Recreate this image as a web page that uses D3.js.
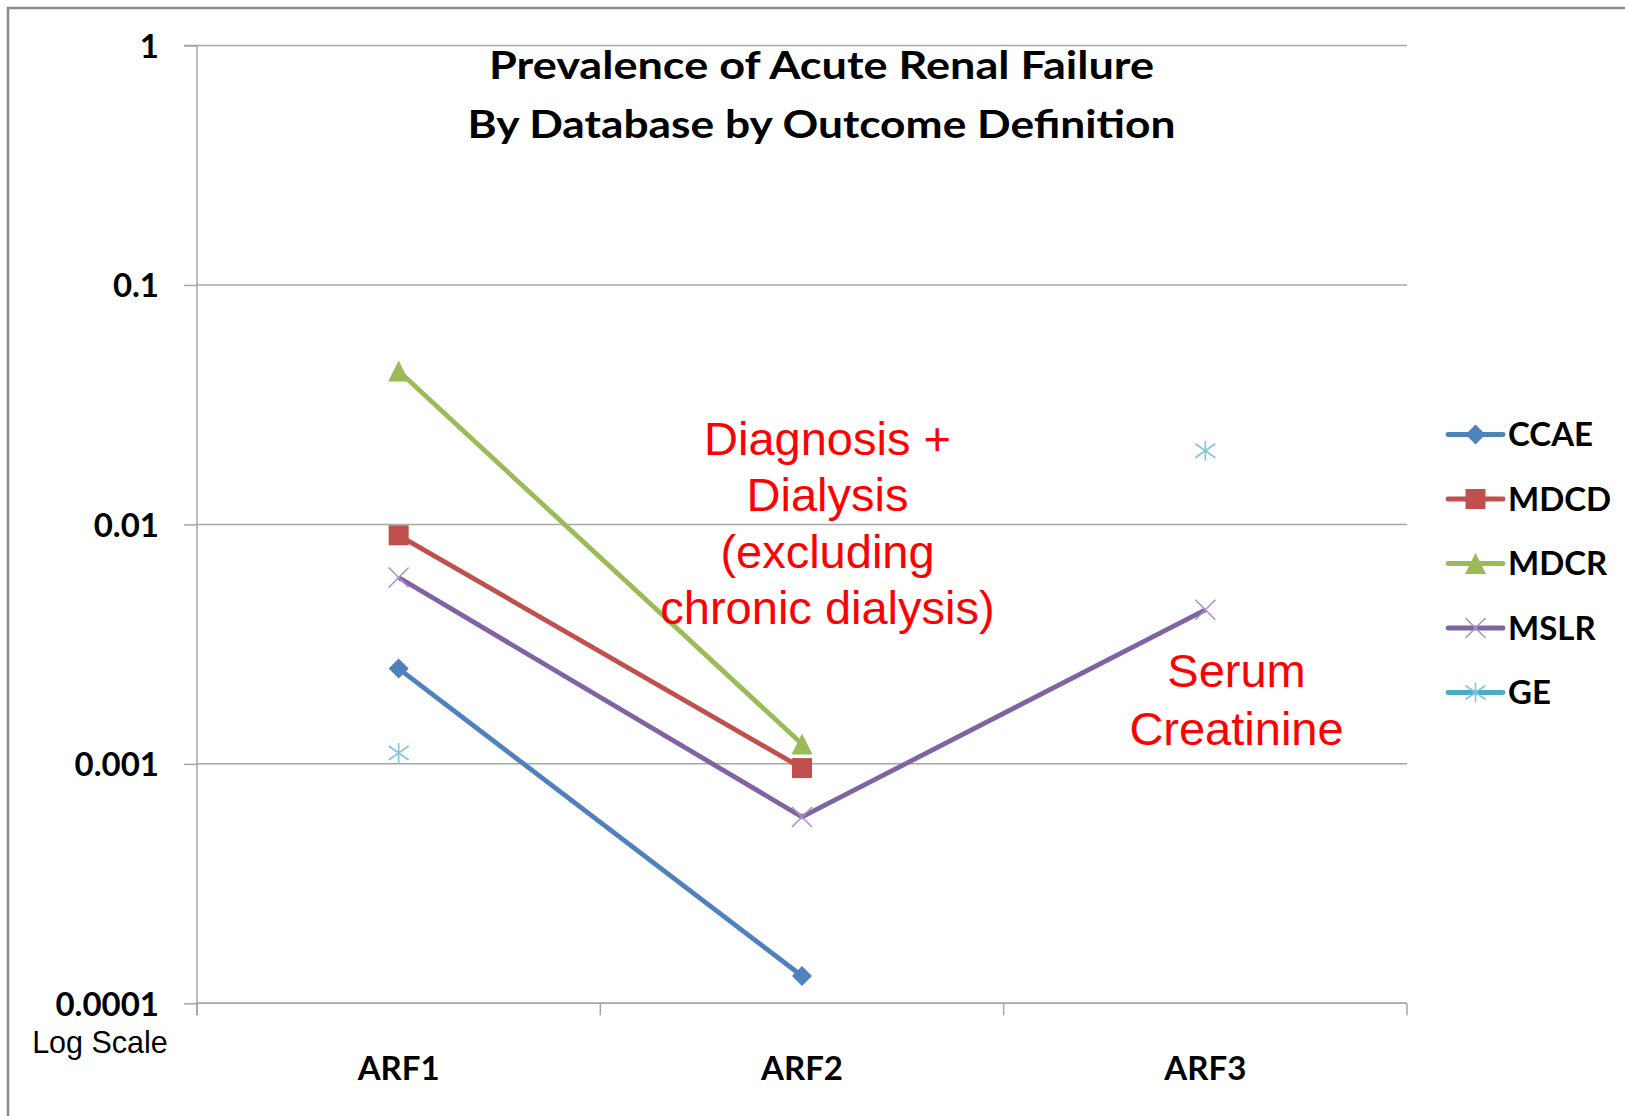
<!DOCTYPE html>
<html>
<head>
<meta charset="utf-8">
<script src="https://cdn.jsdelivr.net/npm/d3@7"></script>
<style>
  html, body { margin: 0; padding: 0; background: #fff; }
  svg { display: block; }
</style>
</head>
<body>
<svg id="chart" width="1625" height="1116"></svg>
<script>
// ---------- data ----------
const categories = ["ARF1", "ARF2", "ARF3"];
const seriesNames = ["CCAE", "MDCD", "MDCR", "MSLR", "GE"];
const ccaeValues = [0.0025, 0.00013, null];
const mdcdValues = [0.009, 0.00096, null];
const mdcrValues = [0.0437, 0.00121, null];
const mslrValues = [0.006, 0.0006, 0.0044];
const geValues   = [0.00111, null, 0.0203];
const yTickValues = [1, 0.1, 0.01, 0.001, 0.0001];
const yTickLabels = ["1", "0.1", "0.01", "0.001", "0.0001"];
const titleLines = ["Prevalence of Acute Renal Failure", "By Database by Outcome Definition"];
const annotationDialysis = ["Diagnosis +", "Dialysis", "(excluding", "chronic dialysis)"];
const annotationSerum = ["Serum", "Creatinine"];
const yAxisNote = "Log Scale";

const seriesValues = [ccaeValues, mdcdValues, mdcrValues, mslrValues, geValues];
const seriesColors = ["#4F81BD", "#C0504D", "#9BBB59", "#8064A2", "#4BACC6"];
const seriesMarkers = ["diamond", "square", "triangle", "x", "asterisk"];
const seriesHasLine = [true, true, true, true, false];

// ---------- layout ----------
const svg = d3.select("#chart");
const plotLeft = 197, plotRight = 1407, plotTop = 45.5, plotBottom = 1003.3;
const calibriLike = "Lato, 'Open Sans', sans-serif";
const arialLike = "'Liberation Sans', Arial, sans-serif";

const x = d3.scaleBand().domain(categories).range([plotLeft, plotRight]);
const xc = c => x(c) + x.bandwidth() / 2;
const y = d3.scaleLog().domain([0.0001, 1]).range([plotBottom, plotTop]);

// outer border (left + top)
svg.append("path")
  .attr("d", `M8,1116 L8,8 L1625,8`)
  .attr("fill", "none").attr("stroke", "#8a8a8a").attr("stroke-width", 2.5);

// gridlines
svg.append("g").selectAll("line").data(yTickValues).join("line")
  .attr("x1", plotLeft).attr("x2", plotRight)
  .attr("y1", d => y(d)).attr("y2", d => y(d))
  .attr("stroke", "#a6a6a6").attr("stroke-width", 1.5);

// y axis
const yAxis = svg.append("g").attr("transform", `translate(${plotLeft},0)`)
  .call(d3.axisLeft(y).tickValues(yTickValues)
    .tickFormat((d, i) => yTickLabels[i]).tickSize(13).tickPadding(25));
yAxis.select(".domain").attr("stroke", "#a6a6a6").attr("stroke-width", 1.5)
  .attr("d", `M-13,${plotTop}H0V${plotBottom + 12}`);
yAxis.selectAll(".tick line").attr("stroke", "#a6a6a6").attr("stroke-width", 1.5);
yAxis.selectAll(".tick text")
  .attr("font-family", calibriLike).attr("font-weight", "bold")
  .attr("font-size", 33).attr("fill", "#000").attr("dy", "0.36em");

// x axis
const xAxis = svg.append("g").attr("transform", `translate(0,${plotBottom})`)
  .call(d3.axisBottom(x).tickSize(0).tickPadding(0));
xAxis.select(".domain").remove();
xAxis.selectAll(".tick text")
  .attr("font-family", calibriLike).attr("font-weight", "bold")
  .attr("font-size", 33).attr("fill", "#000")
  .attr("y", 76.5).attr("dy", 0);
svg.append("line")
  .attr("x1", plotLeft).attr("x2", plotRight)
  .attr("y1", plotBottom).attr("y2", plotBottom)
  .attr("stroke", "#a6a6a6").attr("stroke-width", 1.5);
const boundaries = categories.map(c => x(c)).concat([x.range()[1]]);
svg.append("g").selectAll("line").data(boundaries).join("line")
  .attr("x1", d => d).attr("x2", d => d)
  .attr("y1", plotBottom).attr("y2", plotBottom + 12)
  .attr("stroke", "#a6a6a6").attr("stroke-width", 1.5);

// marker drawing
function drawMarker(g, type, color, cx, cy, s) {
  const h = s / 2;
  if (type === "diamond") {
    g.append("path").attr("d", `M${cx},${cy - h}L${cx + h},${cy}L${cx},${cy + h}L${cx - h},${cy}Z`)
      .attr("fill", color);
  } else if (type === "square") {
    g.append("rect").attr("x", cx - h).attr("y", cy - h).attr("width", s).attr("height", s)
      .attr("fill", color);
  } else if (type === "triangle") {
    g.append("path").attr("d", `M${cx},${cy - h}L${cx + h},${cy + h}L${cx - h},${cy + h}Z`)
      .attr("fill", color);
  } else if (type === "x") {
    g.append("path").attr("d", `M${cx - h},${cy - h}L${cx + h},${cy + h}M${cx + h},${cy - h}L${cx - h},${cy + h}`)
      .attr("stroke", "#a893c6").attr("stroke-width", 1.6).attr("fill", "none");
  } else if (type === "asterisk") {
    g.append("path").attr("d", `M${cx - h},${cy - h * 0.7}L${cx + h},${cy + h * 0.7}M${cx + h},${cy - h * 0.7}L${cx - h},${cy + h * 0.7}M${cx},${cy - h}L${cx},${cy + h}`)
      .attr("stroke", "#7fc6da").attr("stroke-width", 1.6).attr("fill", "none");
  }
}

// series
const line = d3.line()
  .defined(d => d.v != null)
  .x(d => xc(d.c)).y(d => y(d.v));
const markerSizes = { diamond: 20, square: 20, triangle: 21, x: 20, asterisk: 20 };

const seriesG = svg.append("g");
seriesNames.forEach((name, i) => {
  const pts = categories.map((c, j) => ({ c, v: seriesValues[i][j] }));
  const g = seriesG.append("g");
  if (seriesHasLine[i]) {
    g.append("path").datum(pts).attr("d", line)
      .attr("fill", "none").attr("stroke", seriesColors[i])
      .attr("stroke-width", 4.8).attr("stroke-linejoin", "round");
  }
  pts.filter(p => p.v != null).forEach(p => {
    drawMarker(g, seriesMarkers[i], seriesColors[i], xc(p.c), y(p.v), markerSizes[seriesMarkers[i]]);
  });
});

// legend
const legend = svg.append("g");
seriesNames.forEach((name, i) => {
  const ly = 434.5 + i * 64.5;
  const g = legend.append("g");
  g.append("line").attr("x1", 1448).attr("x2", 1503).attr("y1", ly).attr("y2", ly)
    .attr("stroke", seriesColors[i]).attr("stroke-width", 4.8).attr("stroke-linecap", "round");
  drawMarker(g, seriesMarkers[i], seriesColors[i], 1475.5, ly, markerSizes[seriesMarkers[i]]);
  g.append("text").attr("x", 1508).attr("y", ly + 11.5)
    .attr("font-family", calibriLike).attr("font-weight", "bold")
    .attr("font-size", 33).attr("fill", "#000").text(name);
});

// title
const titleBaselines = [79.3, 138.3];
const titleWidths = [665, 708];
svg.append("g").selectAll("text").data(titleLines).join("text")
  .attr("x", 821.5).attr("y", (d, i) => titleBaselines[i])
  .attr("text-anchor", "middle")
  .attr("font-family", calibriLike).attr("font-weight", "bold")
  .attr("font-size", 39).attr("fill", "#000")
  .attr("textLength", (d, i) => titleWidths[i]).attr("lengthAdjust", "spacingAndGlyphs")
  .text(d => d);

// annotations
svg.append("g").selectAll("text").data(annotationDialysis).join("text")
  .attr("x", 827.5).attr("y", (d, i) => 455 + i * 56.4)
  .attr("text-anchor", "middle").attr("font-family", arialLike)
  .attr("font-size", 47).attr("fill", "#FF0000").text(d => d);
svg.append("g").selectAll("text").data(annotationSerum).join("text")
  .attr("x", 1236.5).attr("y", (d, i) => 687 + i * 58)
  .attr("text-anchor", "middle").attr("font-family", arialLike)
  .attr("font-size", 47).attr("fill", "#FF0000").text(d => d);

// log scale note
svg.append("text").attr("x", 100).attr("y", 1052.5)
  .attr("text-anchor", "middle").attr("font-family", arialLike)
  .attr("font-size", 30.5).attr("fill", "#000").text(yAxisNote);
</script>
</body>
</html>
